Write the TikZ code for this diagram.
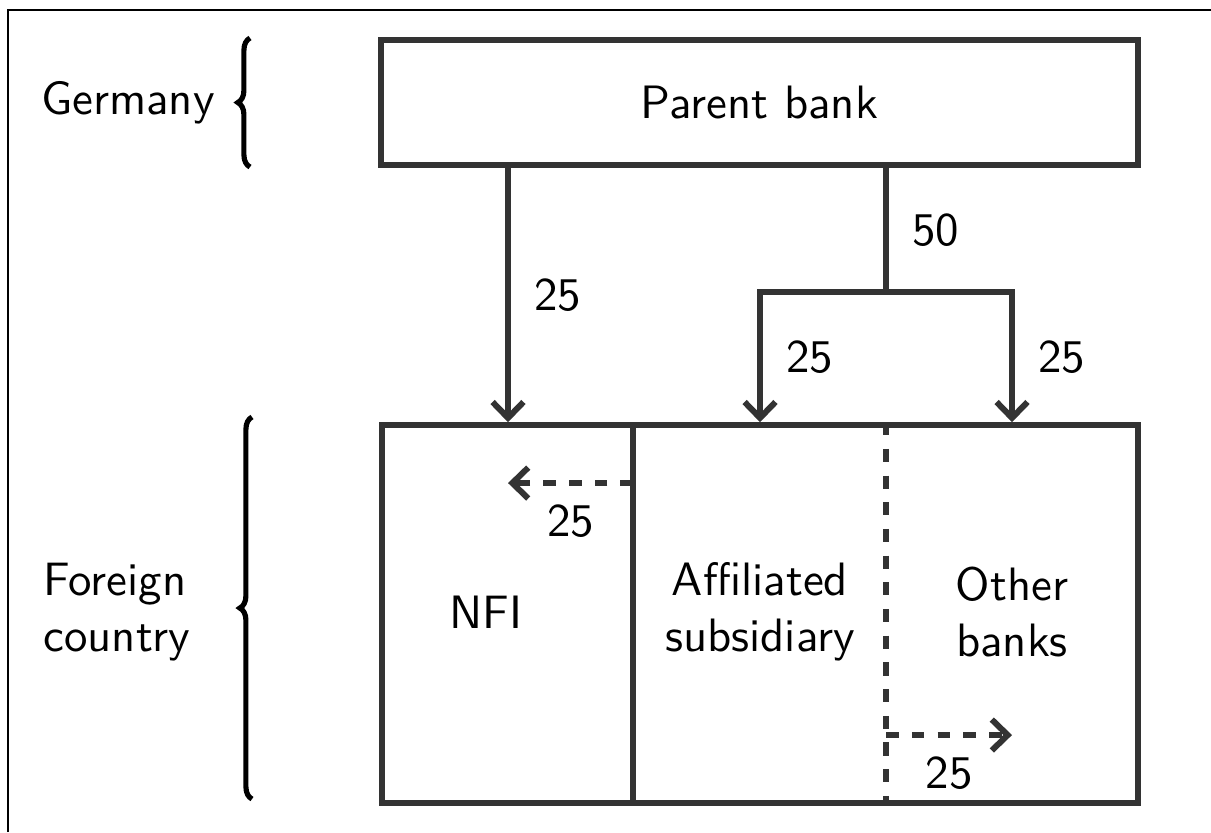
\documentclass[tikz,border=0pt]{standalone}
\usepackage{tikz}
\usetikzlibrary{arrows.meta,decorations.pathreplacing}
\definecolor{boxgray}{HTML}{333333}

\begin{document}
\begin{tikzpicture}
[
    x=0.0075cm, y=-0.0075cm,
    every node/.style={font=\sffamily, text=black},
    box/.style={draw=boxgray, line width=1.28pt, inner sep=0pt},
    flow/.style={draw=boxgray, line width=1.28pt, -{Straight Barb[length=3.4pt, width=6.6pt, line width=1.28pt]}},
    dashflow/.style={flow, dash pattern=on 2.7pt off 2.8pt},
    splitline/.style={draw=boxgray, line width=1.28pt},
    dotline/.style={splitline, dash pattern=on 2.8pt off 2.9pt},
    bracket/.style={draw=black, line width=1.1pt, decorate, decoration={brace, amplitude=2.6pt}},
    amount/.style={inner sep=3pt},
]
\useasboundingbox (0,0) rectangle (1211,832);
\coordinate (fa) at (8,832);
\coordinate (fb) at (8,10);
\coordinate (fc) at (1211,10);
\draw[line width=0.35pt] (fa) -- (fb) -- (fc);

\node [box, minimum width=5.6775cm, minimum height=0.9375cm]
    (parent) at (759.5,102.5) {Parent bank};
\node [box, minimum width=5.6775cm, minimum height=2.835cm]
    (host) at (760,614) {};

\node (nfi) at (486,612) {NFI};
\node [align=center] (aff) at (760,612) {Affiliated\\subsidiary};
\node [align=center] (oth) at (1012,612) {Other\\banks};

\node (germany) at (128,103) {Germany};
\node [align=left] (foreign) at (117,612) {Foreign\\country};

% braces
\coordinate (gb1) at (250,167);
\coordinate (gb2) at (250,38);
\coordinate (fb1) at (252,799);
\coordinate (fb2) at (252,417);
\draw[bracket] (gb1) -- (gb2);
\draw[bracket] (fb1) -- (fb2);

% cell borders
\coordinate (d1) at (633,0);
\coordinate (d2) at (886,0);
\draw[splitline] (host.north -| d1) -- (host.south -| d1);
\draw[dotline] (host.north -| d2) -- (host.south -| d2);

% funding flows
\coordinate (a1) at (508,0);
\coordinate (b0) at (886,292);
\coordinate (b1) at (760,0);
\coordinate (b2) at (1012,0);
\draw[flow] (parent.south -| a1) -- (host.north -| a1)
    node[amount, midway, right, xshift=2pt] {25};
\draw[splitline] (parent.south -| b0) -- (b0)
    node[amount, midway, right, xshift=2pt] {50};
\draw[flow] (b0) -| (host.north -| b1)
    node[amount, pos=0.75, right, xshift=2pt] {25};
\draw[flow] (b0) -| (host.north -| b2)
    node[amount, pos=0.75, right, xshift=2pt] {25};

\coordinate (n1) at (633,483);
\coordinate (n2) at (508,483);
\draw[dashflow] (n1) -- (n2) node[amount, midway, below, yshift=-1pt] {25};
\coordinate (o1) at (886,735);
\coordinate (o2) at (1012,735);
\draw[dashflow] (o1) -- (o2) node[amount, midway, below, yshift=-1pt] {25};
\end{tikzpicture}
\end{document}
